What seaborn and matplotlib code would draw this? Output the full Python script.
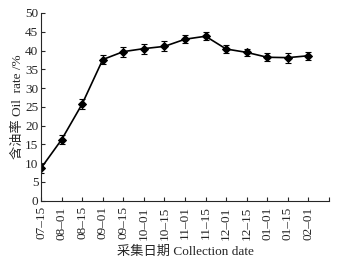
import matplotlib
matplotlib.use("Agg")
import matplotlib.pyplot as plt
import seaborn as sns
import pandas as pd

dates = ["07–15", "08–01", "08–15", "09–01", "09–15", "10–01", "10–15",
         "11–01", "11–15", "12–01", "12–15", "01–01", "01–15", "02–01"]
oil_rate = [8.7, 16.3, 25.8, 37.6, 39.7, 40.5, 41.1, 43.0, 43.8, 40.4, 39.5, 38.2, 38.1, 38.6]
err = [1.2, 1.2, 1.4, 1.3, 1.3, 1.3, 1.3, 1.0, 1.0, 1.0, 1.0, 1.1, 1.3, 1.1]

df = pd.DataFrame({"pos": range(len(dates)), "rate": oil_rate, "err": err})

sns.set_style("ticks")
plt.rcParams['font.family'] = ['Liberation Serif', 'Noto Sans CJK SC']

fig, ax = plt.subplots(figsize=(3.37, 2.59), dpi=100)
fig.subplots_adjust(left=0.122, right=0.976, top=0.95, bottom=0.225)

sns.lineplot(data=df, x="pos", y="rate", ax=ax, color="black", lw=1.2,
             marker="D", markersize=4.5, markeredgecolor="black")
ax.errorbar(df["pos"], df["rate"], yerr=df["err"], fmt="none", ecolor="black",
            elinewidth=0.8, capsize=2, capthick=0.8)

ax.set_xlim(0, 14)
ax.set_ylim(0, 50)
ax.set_xticks(range(15))
ax.set_xticklabels(dates + [""], rotation=90, fontsize=9.5)
ax.set_yticks(range(0, 51, 5))
ax.tick_params(axis="y", labelsize=9.5, pad=2)
ax.tick_params(axis="x", pad=4)
ax.tick_params(direction="in", length=3, width=0.8)
sns.despine(ax=ax)
for s in ["left", "bottom"]:
    ax.spines[s].set_linewidth(0.8)

ax.set_xlabel("采集日期 Collection date", fontsize=9.5, labelpad=4)
ax.set_ylabel("含油率 Oil  rate /%", fontsize=9.5, labelpad=1)

fig.savefig("out.png", dpi=100)
